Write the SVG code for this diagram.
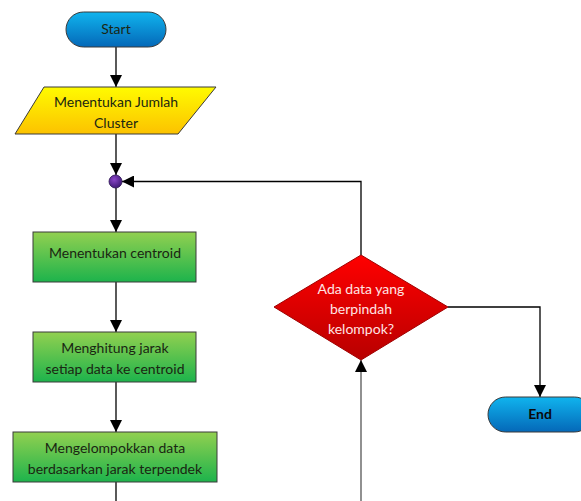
<svg xmlns="http://www.w3.org/2000/svg" width="581" height="501" viewBox="0 0 581 501">
<defs>
<linearGradient id="gBlue" x1="0" y1="0" x2="0" y2="1"><stop offset="0" stop-color="#10b4ee"/><stop offset="1" stop-color="#0468b8"/></linearGradient>
<linearGradient id="gYellow" x1="0" y1="0" x2="0" y2="1"><stop offset="0" stop-color="#fffb00"/><stop offset="1" stop-color="#fcc200"/></linearGradient>
<linearGradient id="gGreen" x1="0" y1="0" x2="0" y2="1"><stop offset="0" stop-color="#92d050"/><stop offset="1" stop-color="#1db34c"/></linearGradient>
<linearGradient id="gRed" x1="0" y1="0" x2="0" y2="1"><stop offset="0" stop-color="#ff0000"/><stop offset="1" stop-color="#b80000"/></linearGradient>
<radialGradient id="gPurple" cx="0.4" cy="0.35" r="0.7"><stop offset="0" stop-color="#8a46c8"/><stop offset="1" stop-color="#3a1670"/></radialGradient>
<marker id="arr" viewBox="0 0 12 12" refX="12" refY="6" markerWidth="12" markerHeight="12" markerUnits="userSpaceOnUse" orient="auto">
<path d="M0,0 L12,6 L0,12 Z" fill="#000"/>
</marker>
</defs>
<style>
.shape{stroke:#3a3a3a;stroke-width:1}
.t{font-family:Lato,"Open Sans","Liberation Sans",sans-serif;font-size:14px;fill:#1a2612;text-anchor:middle}
.conn{fill:none;stroke:#000;stroke-width:1.3}
</style>
<rect width="581" height="501" fill="#fff"/>
<g id="connectors">
<line class="conn" x1="116" y1="47" x2="116" y2="87" marker-end="url(#arr)"/>
<line class="conn" x1="116" y1="134" x2="116" y2="175" marker-end="url(#arr)"/>
<line class="conn" x1="116" y1="188" x2="116" y2="232" marker-end="url(#arr)"/>
<line class="conn" x1="116" y1="282" x2="116" y2="332" marker-end="url(#arr)"/>
<line class="conn" x1="116" y1="382" x2="116" y2="432" marker-end="url(#arr)"/>
<line class="conn" x1="116" y1="482" x2="116" y2="501"/>
<line class="conn" x1="361" y1="501" x2="361" y2="360" marker-end="url(#arr)" style="stroke:#555"/>
<polyline class="conn" points="361,255 361,181.5 122,181.5" marker-end="url(#arr)"/>
<polyline class="conn" points="448,307 540,307 540,397" marker-end="url(#arr)"/>
</g>
<g id="start">
<rect class="shape" x="66" y="12" width="100" height="35" rx="17.5" fill="url(#gBlue)"/>
<text class="t" x="116" y="34">Start</text>
</g>
<g id="input-cluster">
<polygon class="shape" points="44,87 216,87 178,134 15,134" fill="url(#gYellow)"/>
<text class="t" x="116" y="107">Menentukan Jumlah</text>
<text class="t" x="116" y="128">Cluster</text>
</g>
<g id="junction">
<circle cx="115.5" cy="181.5" r="6.5" fill="url(#gPurple)" stroke="#2a1050" stroke-width="0.8"/>
</g>
<g id="centroid">
<rect class="shape" x="33" y="232" width="163" height="50" fill="url(#gGreen)"/>
<text class="t" x="115" y="258">Menentukan centroid</text>
</g>
<g id="hitung">
<rect class="shape" x="33" y="332" width="163" height="50" fill="url(#gGreen)"/>
<text class="t" x="115" y="353">Menghitung jarak</text>
<text class="t" x="115" y="374">setiap data ke centroid</text>
</g>
<g id="kelompok">
<rect class="shape" x="13" y="432" width="204" height="50" fill="url(#gGreen)"/>
<text class="t" x="115" y="453">Mengelompokkan data</text>
<text class="t" x="115" y="474">berdasarkan jarak terpendek</text>
</g>
<g id="decision">
<polygon class="shape" points="361,255 448,307 361,360 274,307" fill="url(#gRed)" style="stroke:#a00000"/>
<text class="t" x="361" y="294" style="fill:#ffe4e4">Ada data yang</text>
<text class="t" x="361" y="314" style="fill:#ffe4e4">berpindah</text>
<text class="t" x="361" y="334" style="fill:#ffe4e4">kelompok?</text>
</g>
<g id="end">
<rect class="shape" x="488" y="397" width="104" height="35" rx="17.5" fill="url(#gBlue)"/>
<text class="t" x="540" y="419" style="font-weight:bold;fill:#0a0a0a">End</text>
</g>
</svg>
